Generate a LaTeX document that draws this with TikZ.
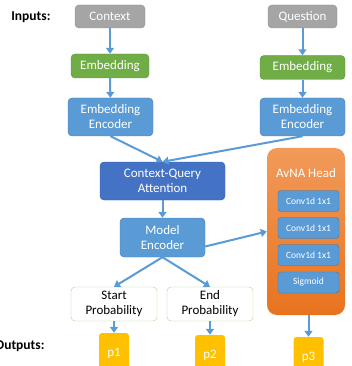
\documentclass[tikz,border=0pt]{standalone}
\usepackage{fontspec}
\setmainfont{Carlito}
\usetikzlibrary{arrows.meta,positioning}
\definecolor{inpgray}{HTML}{A5A5A5}
\definecolor{embgreen}{HTML}{70AD47}
\definecolor{encblue}{HTML}{5B9BD5}
\definecolor{attblue}{HTML}{4472C4}
\definecolor{headtop}{HTML}{F29A5A}
\definecolor{headbot}{HTML}{E8731E}
\definecolor{outyellow}{HTML}{FFC000}
\definecolor{probline}{HTML}{A9D18E}

\begin{document}
\begin{tikzpicture}[
		x=1pt, y=-1pt,
		>={Triangle[length=6pt,width=8pt]},
		font=\fontsize{13}{15}\selectfont,
		block/.style={
			rectangle,
			rounded corners=4pt,
			text=white,
			align=center,
			inner sep=1pt
		},
		input/.style={block, fill=inpgray, draw=inpgray!85!black,
			minimum width=70pt, minimum height=23pt},
		embed/.style={block, fill=embgreen, draw=embgreen!85!black,
			minimum height=24pt},
		encoder/.style={block, fill=encblue, draw=encblue!80!black,
			minimum width=85pt, minimum height=38pt},
		prob/.style={block, fill=white, draw=probline, text=black,
			minimum width=86pt, minimum height=34pt},
		layer/.style={block, fill=encblue, draw=encblue!75!black,
			rounded corners=3pt, minimum width=61pt, minimum height=21pt,
			font=\fontsize{9.5}{11}\selectfont},
		outbox/.style={block, fill=outyellow, rounded corners=3pt,
			minimum width=30pt, minimum height=40pt},
		caption/.style={font=\bfseries\fontsize{13.5}{15}\selectfont, anchor=east},
		flow/.style={->, draw=encblue, line width=2pt}
		]
		\useasboundingbox (0,0) rectangle (351,366);
		
		% inputs and their encoders
		\node [caption] (inlabel) at (54,17) {Inputs:};
		\node [input] (context) at (110,16.5) {Context};
		\node [input, minimum width=69pt] (question) at (302.5,16.5) {Question};
		
		\node [embed, minimum width=78pt] (embctx) at (110,66) {Embedding};
		\node [embed, minimum width=85pt] (embqst) at (302.5,67.5) {Embedding};
		
		\node [encoder] (encctx) at (110.5,117) {Embedding\\Encoder};
		\node [encoder] (encqst) at (302.5,117) {Embedding\\Encoder};
		
		% attention and model encoder
		\node [encoder, fill=attblue, draw=attblue!80!black, minimum width=125pt]
			(attention) at (162.5,181) {Context-Query\\Attention};
		\node [encoder, minimum height=39pt] (model) at (162.5,237.5) {Model\\Encoder};
		
		% span outputs
		\node [prob] (start) at (114,304) {Start\\Probability};
		\node [prob] (end) at (210,304) {End\\Probability};
		
		% answer / no-answer head
		\node [block, rounded corners=10pt, top color=headtop, bottom color=headbot,
			minimum width=78pt, minimum height=167pt] (avna) at (306,231.5) {};
		\node [text=white] (avnatitle) at (306,173) {AvNA Head};
		\node [layer] (conv1) at (308.5,201) {Conv1d 1x1};
		\node [layer] (conv2) at (308.5,228) {Conv1d 1x1};
		\node [layer] (conv3) at (308.5,255) {Conv1d 1x1};
		\node [layer] (sigmoid) at (308.5,282.5) {Sigmoid};
		
		\node [caption] (outlabel) at (48,346) {Outputs:};
		\node [outbox] (p1) at (114,353) {p1};
		\node [outbox] (p2) at (210,355) {p2};
		\node [outbox] (p3) at (308.5,357) {p3};
		
		% connections
		\draw [flow] (context) -- (embctx);
		\draw [flow] (question) -- (embqst);
		\draw [flow] (embctx) -- (encctx);
		\draw [flow] (embqst) -- (encqst);
		\draw [flow] (encctx.south) -- (attention.north);
		\draw [flow] (encqst.south) -- (attention.north);
		\draw [flow] (attention) -- (model);
		\draw [flow] (model.south) -- (start.north);
		\draw [flow] (model.south) -- (end.north);
		\draw [flow] ([yshift=-9pt]model.east) -- (avna.west);
		\draw [flow] (start) -- (p1);
		\draw [flow] (end) -- (p2);
		\draw [flow] (avna.south -| p3) -- (p3);
		
\end{tikzpicture}
\end{document}
